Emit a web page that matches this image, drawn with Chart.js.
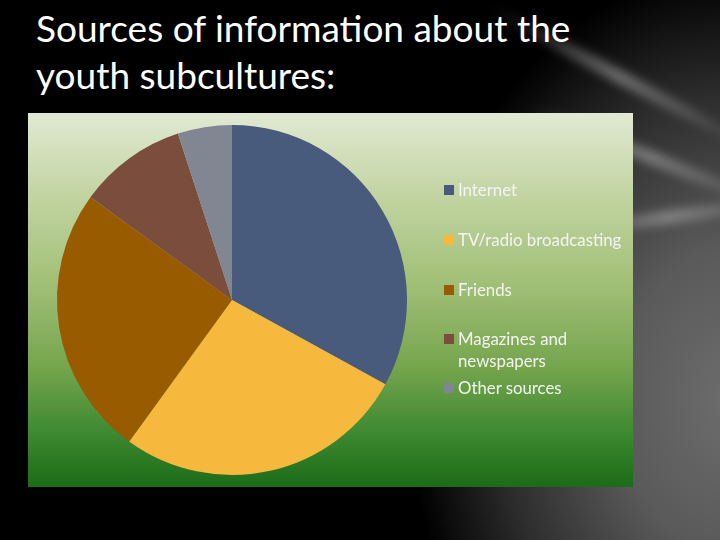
<!DOCTYPE html>
<html>
<head>
<meta charset="utf-8">
<script src="https://cdn.jsdelivr.net/npm/chart.js@4.4.0/dist/chart.umd.min.js"></script>
<style>
  html, body { margin: 0; padding: 0; }
  body {
    width: 720px; height: 540px; overflow: hidden; position: relative;
    background:
      radial-gradient(ellipse 320px 430px at 730px 400px, #6c6c6c 0%, #5a5a5a 35%, #2e2e2e 70%, #000 100%),
      #000;
    font-family: "Lato", "Open Sans", sans-serif;
  }
  .streak {
    position: absolute; height: 14px; border-radius: 50%;
    background: linear-gradient(to right, rgba(160,160,160,0), rgba(170,170,170,0.55), rgba(160,160,160,0));
    filter: blur(5px);
  }
  #title {
    position: absolute; left: 36px; top: 4px;
    color: #fff; font-size: 37px; line-height: 47px;
  }
  #box {
    position: absolute; left: 28px; top: 113px; width: 605px; height: 374px;
    background: linear-gradient(to bottom, #e1e9d3 0%, #c5d6a6 20%, #a2c078 45%, #75a54d 68%, #3f8a32 85%, #1b6b17 100%);
  }
  #box canvas { position: absolute; left: 0; top: 0; }
  #legend {
    position: absolute; left: 444px; top: 0; width: 200px;
    color: #f4f4f4; font-size: 16.8px;
  }
  .item { position: absolute; left: 0; line-height: 22px; padding-left: 14px; white-space: nowrap; }
  .item .sw { position: absolute; left: 0; top: 6px; width: 10px; height: 10px; }
</style>
</head>
<body>
<div class="streak" style="left:470px; top:70px; width:300px; transform:rotate(28deg);"></div>
<div class="streak" style="left:520px; top:150px; width:260px; transform:rotate(22deg);"></div>
<div class="streak" style="left:560px; top:210px; width:220px; transform:rotate(-8deg);"></div>
<div id="title">Sources of information about the<br>youth subcultures:</div>
<div id="box">
  <canvas id="pie" width="605" height="374"></canvas>
</div>
<div id="legend"></div>
<script>
var labels = ["Internet", "TV/radio broadcasting", "Friends", "Magazines and newspapers", "Other sources"];
var legendLines = [["Internet"], ["TV/radio broadcasting"], ["Friends"], ["Magazines and", "newspapers"], ["Other sources"]];
var values = [33, 27, 25, 10, 5];
var colors = ["#485b7c", "#f6b93e", "#995b00", "#7a4d3d", "#808692"];
var legendTops = [179, 229, 279, 328, 377];

var ctx = document.getElementById("pie");
new Chart(ctx, {
    type: 'pie',
    data: {
        labels: labels,
        datasets: [{
            data: values,
            backgroundColor: colors,
            borderWidth: 0
        }]
    },
    options: {
        responsive: false,
        animation: false,
        layout: {
            padding: { left: 29, right: 226, top: 12, bottom: 12 }
        },
        plugins: {
            legend: { display: false },
            tooltip: { enabled: false }
        }
    }
});

// legend beside the pie
var legend = document.getElementById("legend");
for (var i = 0; i < labels.length; i++) {
    var item = document.createElement("div");
    item.className = "item";
    item.style.top = legendTops[i] + "px";
    item.innerHTML = '<span class="sw" style="background:' + colors[i] + '"></span>' + legendLines[i].join("<br>");
    legend.appendChild(item);
}
</script>
</body>
</html>
